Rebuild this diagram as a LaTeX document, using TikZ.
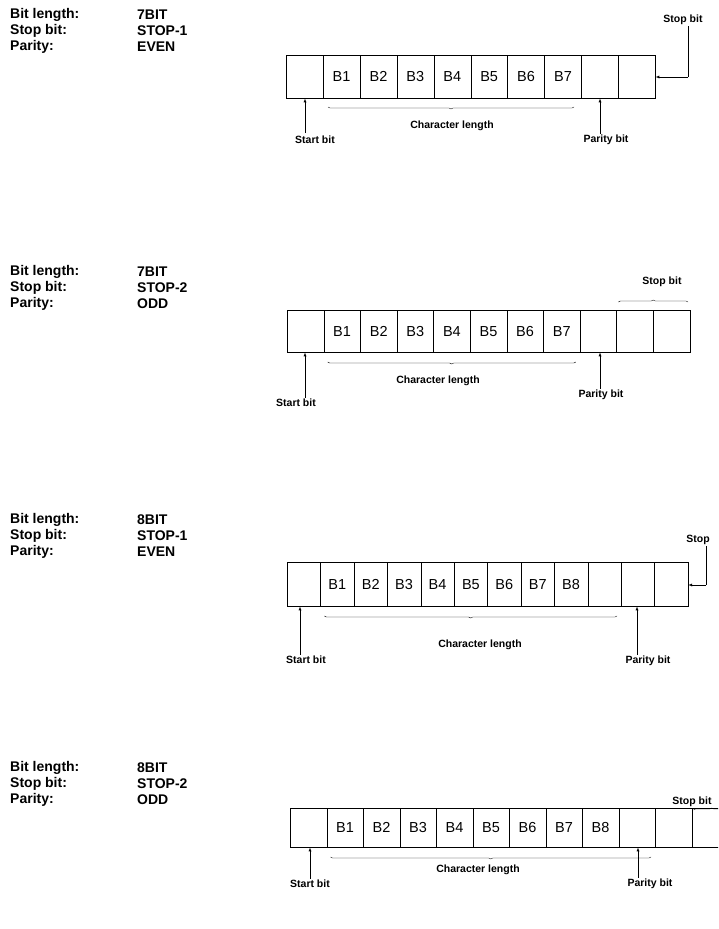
\documentclass[tikz,border=0pt]{standalone}
\usepackage{fontspec}
\setmainfont{Liberation Sans}
\usetikzlibrary{positioning,decorations.pathreplacing}

\tikzset{
  cell/.style={draw,thin,minimum height=#1,inner sep=0pt,anchor=north west},
  bitlbl/.style={font=\fontsize{14.5}{14.5}\selectfont},
  note/.style={font=\bfseries\fontsize{10.5}{10.5}\selectfont,inner sep=1pt},
  head/.style={font=\bfseries\fontsize{14}{14}\selectfont,anchor=west,inner sep=0pt},
  ptr/.style={-latex,thin},
  span/.style={decorate,decoration={brace,amplitude=2pt},thin}
}

% frame: prefix, x, y, cell width, height, number of cells, data bits
\newcommand{\bitframe}[7]{
  \foreach \k in {1,...,#6}{
    \node[cell=#5,minimum width=#4] (#1\k) at ({#2+(\k-1)*#4},#3) {};
  }
  \foreach \k in {1,...,#7}{
    \pgfmathtruncatemacro{\j}{\k+1}
    \node[bitlbl] at (#1\j) {B\k};
  }
}

\begin{document}
\begin{tikzpicture}[x=1pt,y=-1pt]
\useasboundingbox (0,0) rectangle (718,929);
\clip (0,0) rectangle (718,929);

% headings
\foreach \y/\blen/\bstop/\bpar in {15/7BIT/STOP-1/EVEN,272/7BIT/STOP-2/ODD,520/8BIT/STOP-1/EVEN,768/8BIT/STOP-2/ODD}{
  \node[head] at (10,\y) {Bit length:};
  \node[head] at (10,\y+16) {Stop bit:};
  \node[head] at (10,\y+32) {Parity:};
  \node[head] at (137,\y) {\blen};
  \node[head] at (137,\y+16) {\bstop};
  \node[head] at (137,\y+32) {\bpar};
}

% 7 bit, stop 1, even
\bitframe{a}{286}{55}{36.9}{43}{10}{7}
\node[note] (aStart) at (315,140) {Start bit};
\node[note] (aChar) at (452,126) {Character length};
\node[note] (aPar) at (606,140) {Parity bit};
\node[note] (aStop) at (683,20) {Stop bit};
\coordinate (aBend) at (688,77);
\draw[ptr] (305,133) -- (a1.south -| 305,0);
\draw[ptr] (aPar.north -| 600,0) -- (a9.south -| 600,0);
\draw[thin] (aStop.south -| aBend) -- (aBend);
\draw[ptr] (aBend) -- (a10.east |- aBend);
\draw[span] (574,107) -- (328,107);

% 7 bit, stop 2, odd
\bitframe{b}{287}{310}{36.6}{42}{11}{7}
\node[note] (bStart) at (296,403) {Start bit};
\node[note] (bChar) at (438,381) {Character length};
\node[note] (bPar) at (601,395) {Parity bit};
\node[note] (bStop) at (662,282) {Stop bit};
\draw[ptr] (bStart.north -| 305,0) -- (b1.south -| 305,0);
\draw[ptr] (bPar.north -| 600,0) -- (b9.south -| 600,0);
\draw[span] ([xshift=2]b10.north west |- 0,302) -- ([xshift=-2]b11.north east |- 0,302);
\draw[span] ([xshift=-4]b9.south west |- 0,362) -- ([xshift=4]b2.south west |- 0,362);

% 8 bit, stop 1, even
\bitframe{c}{287}{562}{33.4}{44}{12}{8}
\node[note] (cStart) at (306,660) {Start bit};
\node[note] (cChar) at (480,645) {Character length};
\node[note] (cPar) at (648,661) {Parity bit};
\node[note] (cStop) at (698,540) {Stop};
\coordinate (cBend) at (706,585);
\draw[ptr] (cStart.north -| 300,0) -- (c1.south -| 300,0);
\draw[ptr] (cPar.north -| 637,0) -- (c11.south -| 637,0);
\draw[thin] (cStop.south -| cBend) -- (cBend);
\draw[ptr] (cBend) -- (c12.east |- cBend);
\draw[span] ([xshift=-4]c11.south west |- 0,616) -- ([xshift=4]c2.south west |- 0,616);

% 8 bit, stop 2, odd
\bitframe{d}{290}{808}{36.5}{39}{13}{8}
\node[note] (dStart) at (310,884) {Start bit};
\node[note] (dChar) at (478,870) {Character length};
\node[note] (dPar) at (650,884) {Parity bit};
\node[note] (dStop) at (692,802) {Stop bit};
\draw[ptr] (dStart.north -| 310,0) -- (d1.south -| 310,0);
\draw[ptr] (dPar.north -| 638,0) -- (d11.south -| 638,0);
\draw[span] ([xshift=2]d12.north west |- 0,810) -- (730,810);
\draw[span] ([xshift=-4]d11.south west |- 0,857) -- ([xshift=4]d2.south west |- 0,857);
\end{tikzpicture}
\end{document}
